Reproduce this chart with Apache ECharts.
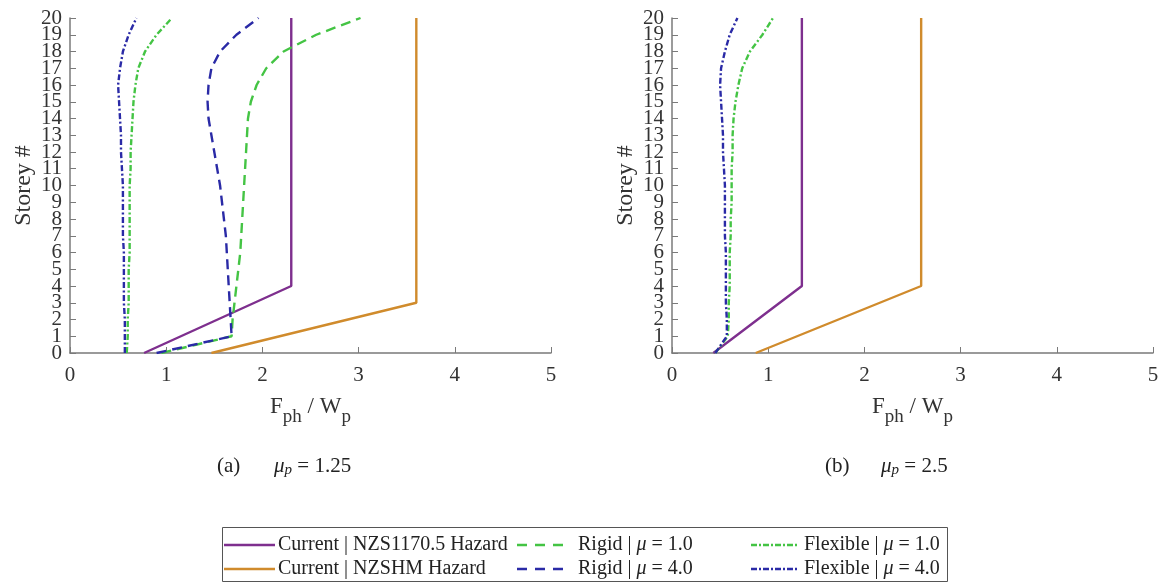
<!DOCTYPE html>
<html><head><meta charset="utf-8">
<script src="https://cdn.jsdelivr.net/npm/echarts@6/dist/echarts.min.js"></script>
<style>html,body{margin:0;padding:0;background:#fff}#c{width:1163px;height:582px}</style>
</head><body><div id="c"></div>
<script>
// ---- data ----
const storeys = [0,1,2,3,4,5,6,7,8,9,10,11,12,13,14,15,16,17,18,19,20];
const storeyLabels = ['0','1','2','3','4','5','6','7','8','9','10','11','12','13','14','15','16','17','18','19','20'];
const xTicks = [0,1,2,3,4,5];
// (a) mu_p = 1.25
const nzsA_x = [0.77, 2.30, 2.30];   const nzsA_y = [0, 4, 20];
const shmA_x = [1.47, 3.60, 3.60];   const shmA_y = [0, 3, 20];
const rigid1A = [0.95,1.68,1.69,1.71,1.73,1.75,1.77,1.78,1.79,1.80,1.81,1.82,1.83,1.84,1.85,1.88,1.94,2.04,2.22,2.56,3.02];
const rigid4A = [0.90,1.68,1.67,1.66,1.65,1.64,1.63,1.62,1.60,1.58,1.56,1.53,1.50,1.47,1.44,1.43,1.44,1.47,1.56,1.73,1.96];
const flex1A  = [0.59,0.60,0.60,0.61,0.61,0.61,0.62,0.62,0.62,0.62,0.62,0.63,0.63,0.64,0.65,0.66,0.68,0.71,0.78,0.90,1.06];
const flex4A  = [0.57,0.57,0.57,0.56,0.56,0.56,0.56,0.55,0.55,0.55,0.55,0.54,0.53,0.53,0.52,0.51,0.50,0.52,0.55,0.61,0.69];
// (b) mu_p = 2.5
const nzsB_x = [0.43, 1.35, 1.35];   const nzsB_y = [0, 4, 20];
const shmB_x = [0.87, 2.59, 2.59];   const shmB_y = [0, 4, 20];
const flex1B  = [0.45,0.58,0.59,0.59,0.60,0.60,0.60,0.61,0.61,0.62,0.62,0.62,0.63,0.63,0.64,0.66,0.69,0.73,0.81,0.94,1.05];
const flex4B  = [0.45,0.57,0.57,0.56,0.56,0.56,0.56,0.55,0.55,0.55,0.55,0.54,0.53,0.53,0.52,0.51,0.50,0.51,0.55,0.60,0.68];

const names = {
  nzs: 'Current | NZS1170.5 Hazard', shm: 'Current | NZSHM Hazard',
  r1: 'Rigid | μ = 1.0', r4: 'Rigid | μ = 4.0',
  f1: 'Flexible | μ = 1.0', f4: 'Flexible | μ = 4.0'
};
const C = {purple:'#7E2F8E', orange:'#D08B2C', green:'#44C444', blue:'#2A2AA6'};
const FONT = 'Liberation Serif';

function pairs(xs, ys){ return xs.map((v,i)=>[v, ys[i]]); }
function mk(name, data, color, type, gi){
  return {name, type:'line', xAxisIndex:gi, yAxisIndex:gi, data, symbol:'none', showSymbol:false,
    lineStyle:{color, width:2.4, type}, itemStyle:{color}, animation:false, z: 3};
}
const DASH = [10,6];
const DASHDOT = [6,2.5,2,2.5];

const series = [
  mk(names.nzs, pairs(nzsA_x, nzsA_y), C.purple, 'solid', 0),
  mk(names.shm, pairs(shmA_x, shmA_y), C.orange, 'solid', 0),
  mk(names.r1, pairs(rigid1A, storeys), C.green, DASH, 0),
  mk(names.r4, pairs(rigid4A, storeys), C.blue, DASH, 0),
  mk(names.f1, pairs(flex1A, storeys), C.green, DASHDOT, 0),
  mk(names.f4, pairs(flex4A, storeys), C.blue, DASHDOT, 0),
  mk(names.nzs, pairs(nzsB_x, nzsB_y), C.purple, 'solid', 1),
  mk(names.shm, pairs(shmB_x, shmB_y), C.orange, 'solid', 1),
  mk(names.f1, pairs(flex1B, storeys), C.green, DASHDOT, 1),
  mk(names.f4, pairs(flex4B, storeys), C.blue, DASHDOT, 1)
];

const axisCol = '#7a7a7a';
function xAx(gi){
  return {type:'value', gridIndex:gi, min:xTicks[0], max:xTicks[xTicks.length-1], interval:1,
    axisLine:{show:true, onZero:false, lineStyle:{color:axisCol, width:1.5}},
    axisTick:{show:true, inside:true, length:6, lineStyle:{color:axisCol}},
    splitLine:{show:false},
    axisLabel:{color:'#333', fontFamily:FONT, fontSize:21, margin:12, showMinLabel:true, showMaxLabel:true},
    name:'{b|F}{s|ph}{b| / W}{s|p}', nameLocation:'middle', nameGap:33,
    nameTextStyle:{rich:{
      b:{fontFamily:FONT, fontSize:23, color:'#333'},
      s:{fontFamily:FONT, fontSize:19, color:'#333', padding:[22,0,0,0]}
    }}};
}
function yAx(gi){
  return {type:'category', gridIndex:gi, data:storeyLabels, boundaryGap:false,
    axisLine:{show:true, onZero:false, lineStyle:{color:axisCol, width:1.5}},
    axisTick:{show:true, inside:true, length:6, interval:0, lineStyle:{color:axisCol}},
    splitLine:{show:false},
    axisLabel:{color:'#333', fontFamily:FONT, fontSize:21, margin:8, lineHeight:14, interval:0, hideOverlap:false},
    name:'Storey #', nameLocation:'middle', nameRotate:90, nameGap:34,
    nameTextStyle:{fontFamily:FONT, fontSize:24, color:'#333'}};
}

// legend drawn as graphic (styles only; texts are the series names)
const legendCols = [
  {x1:224, x2:275, tx:278, items:[[names.nzs, C.purple, null], [names.shm, C.orange, null]]},
  {x1:517, x2:567, tx:578, items:[[names.r1, C.green, [10,8]], [names.r4, C.blue, [10,8]]]},
  {x1:751, x2:797, tx:804, items:[[names.f1, C.green, [6,2,2,2]], [names.f4, C.blue, [6,2,2,2]]]}
];
const rowY = [545, 569];
const legendGraphics = [
  {type:'rect', shape:{x:222.5, y:527.5, width:725, height:54}, style:{fill:null, stroke:'#555', lineWidth:1}, silent:true}
];
legendCols.forEach(col => {
  col.items.forEach((it, r) => {
    legendGraphics.push({type:'line', shape:{x1:col.x1, y1:rowY[r], x2:col.x2, y2:rowY[r]},
      style:{stroke:it[1], lineWidth:2.4, lineDash:it[2] || null}, silent:true});
    legendGraphics.push({type:'text', x:col.tx, y:rowY[r], style:{
      text: it[0].replace('μ','{i|μ}'), fontFamily:FONT, fontSize:20, fill:'#222', verticalAlign:'middle',
      rich:{i:{fontFamily:FONT, fontStyle:'italic', fontSize:20, fill:'#222'}}}, silent:true});
  });
});

const capRich = {m:{fontFamily:FONT, fontStyle:'italic', fontSize:21, fill:'#222'},
  p:{fontFamily:FONT, fontStyle:'italic', fontSize:15, fill:'#222', padding:[9,0,0,0]},
  n:{fontFamily:FONT, fontSize:21, fill:'#222'}};
const captions = [
  {tag:'(a)', x:217, mx:274, val:'1.25'},
  {tag:'(b)', x:825, mx:881, val:'2.5'}
];
const captionGraphics = [];
captions.forEach(c => {
  captionGraphics.push({type:'text', x:c.x, y:466, style:{text:c.tag, fontFamily:FONT, fontSize:21, fill:'#222', verticalAlign:'middle'}});
  captionGraphics.push({type:'text', x:c.mx, y:466, style:{text:'{m|μ}{p|p}{n| = ' + c.val + '}', fontFamily:FONT, fontSize:21, fill:'#222', verticalAlign:'middle', rich:capRich}});
});

const chart = echarts.init(document.getElementById('c'), null, {renderer:'canvas'});
chart.setOption({
  backgroundColor:'#fff',
  animation:false,
  grid:[
    {left:70, top:18, width:481, height:335},
    {left:672, top:18, width:481, height:335}
  ],
  xAxis:[xAx(0), xAx(1)],
  yAxis:[yAx(0), yAx(1)],
  series,
  graphic: legendGraphics.concat(captionGraphics)
});
</script></body></html>
